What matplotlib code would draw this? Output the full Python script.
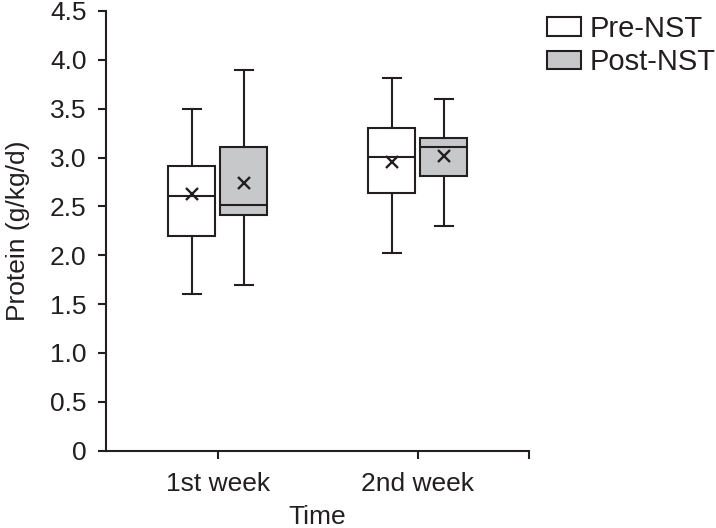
import numpy as np
import matplotlib.pyplot as plt
from matplotlib.patches import Patch

plt.rcParams['font.family'] = ['Liberation Sans', 'DejaVu Sans']

# Box statistics (g/kg/d)
weeks = ["1st week", "2nd week"]
groups = ["Pre-NST", "Post-NST"]
whislo = [[1.60, 2.02], [1.70, 2.30]]
q1 = [[2.20, 2.64], [2.41, 2.81]]
med = [[2.61, 3.01], [2.51, 3.11]]
q3 = [[2.91, 3.30], [3.11, 3.20]]
whishi = [[3.50, 3.81], [3.90, 3.60]]
means = [[2.63, 2.95], [2.74, 3.02]]

ink = "#231f20"
fills = ["white", "#c7c8c9"]
fs = 19

fig = plt.figure(figsize=(7.16, 5.28), dpi=100)
ax = fig.add_axes([0.148, 0.1464, 0.5908, 0.8328])

offsets = [-0.13, 0.13]
for g in range(2):
    stats = []
    for w in range(2):
        stats.append(dict(whislo=whislo[g][w], q1=q1[g][w], med=med[g][w],
                          q3=q3[g][w], whishi=whishi[g][w], mean=means[g][w],
                          fliers=[]))
    pos = np.arange(1, 3) + offsets[g]
    ax.bxp(stats, positions=pos, widths=0.235, capwidths=0.09,
           patch_artist=True, showmeans=True, showfliers=False,
           boxprops=dict(facecolor=fills[g], edgecolor=ink, linewidth=1.5),
           medianprops=dict(color=ink, linewidth=1.5),
           whiskerprops=dict(color=ink, linewidth=1.5),
           capprops=dict(color=ink, linewidth=1.5),
           meanprops=dict(marker='x', markeredgecolor=ink, markersize=9,
                          markeredgewidth=1.7))

ax.set_xlim(0.44, 2.555)
ax.set_ylim(0, 4.5)
ax.set_xticks([1, 2, 2.555])
ax.set_xticklabels(weeks + [""])
ax.set_yticks(np.arange(0, 4.51, 0.5))
ax.set_yticklabels(["0"] + [f"{v:.1f}" for v in np.arange(0.5, 4.51, 0.5)])

for s in ["top", "right"]:
    ax.spines[s].set_visible(False)
for s in ["left", "bottom"]:
    ax.spines[s].set_color(ink)
    ax.spines[s].set_linewidth(1.5)
ax.tick_params(colors=ink, labelcolor=ink, width=1.5, length=6,
               labelsize=fs)
ax.tick_params(axis='y', pad=8)
ax.tick_params(axis='x', pad=9)

ax.set_xlabel("Time", fontsize=fs, color=ink, labelpad=7)
ax.set_ylabel("Protein (g/kg/d)", fontsize=fs, color=ink, labelpad=14)

handles = [Patch(facecolor=f, edgecolor=ink, linewidth=1.5) for f in fills]
fig.legend(handles, groups, loc="upper left", bbox_to_anchor=(0.728, 1.022),
           frameon=False, fontsize=21, handlelength=1.15, handleheight=0.6,
           handletextpad=0.3, labelspacing=0.2, labelcolor=ink)

fig.savefig("out.png", dpi=100)
